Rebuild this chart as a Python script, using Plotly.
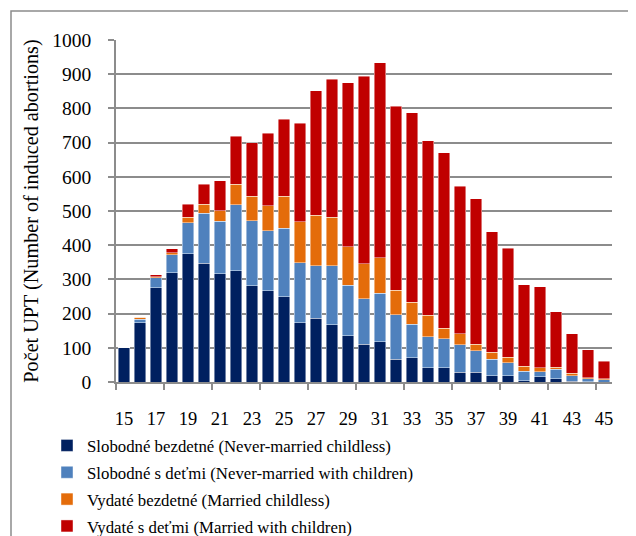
import plotly.graph_objects as go

ages = list(range(15, 46))
never_married_childless = [100, 173, 275, 319, 375, 347, 316, 325, 281, 267, 249, 173, 187, 167, 135, 111, 117, 67, 71, 41, 41, 29, 28, 18, 18, 3, 15, 9, 2, 1, 0]
never_married_children = [0, 10, 30, 53, 90, 146, 154, 194, 191, 175, 200, 176, 153, 173, 148, 132, 143, 129, 98, 92, 86, 80, 63, 48, 38, 29, 15, 29, 17, 8, 7]
married_childless = [0, 6, 3, 6, 17, 27, 31, 59, 71, 74, 94, 119, 148, 142, 113, 103, 103, 72, 64, 62, 30, 32, 19, 21, 17, 14, 12, 5, 6, 3, 2]
married_children = [0, 1, 6, 12, 38, 58, 88, 140, 157, 211, 226, 289, 363, 403, 479, 548, 570, 539, 555, 510, 514, 431, 426, 353, 318, 239, 237, 163, 116, 83, 52]

series_names = [
    "Slobodné bezdetné (Never-married childless)",
    "Slobodné s deťmi (Never-married with children)",
    "Vydaté bezdetné (Married childless)",
    "Vydaté s deťmi (Married with children)",
]
series_values = [never_married_childless, never_married_children, married_childless, married_children]
colors = ["#002060", "#4F81BD", "#E46C0A", "#C00000"]
x_labels = list(range(15, 46, 2))
y_ticks = list(range(0, 1001, 100))

FONT = "Liberation Serif, Times New Roman, serif"
W, H = 636, 536
OFF = 8  # page body margin
# desired plot area in page pixels: x 116..612, y 40..382
L, T = 116 - OFF, 40 - OFF
R = W - (612 - OFF)
B = H - (382 - OFF)
pw, ph = 612 - 116, 382 - 40

def px_x(p):
    return (p - 116) / pw

def px_y(p):
    return (382 - p) / ph

fig = go.Figure()
for i, (name, vals, c) in enumerate(zip(series_names, series_values, colors)):
    fig.add_trace(go.Bar(
        x=ages, y=vals, name=name,
        marker=dict(color=c, line=dict(color="rgba(255,255,255,0.55)", width=0.8)),
        legendgroup=f"g{i}",
    ))

fig.update_layout(
    barmode="stack",
    bargap=0.31,
    width=W, height=H,
    margin=dict(l=L, r=R, t=T, b=B, autoexpand=False),
    paper_bgcolor="white",
    plot_bgcolor="white",
    font=dict(family=FONT, size=18, color="black"),
    legend=dict(
        x=px_x(47), xanchor="left",
        y=px_y(428), yanchor="top",
        traceorder="grouped",
        tracegroupgap=2,
        font=dict(family=FONT, size=16.8, color="black"),
        bgcolor="rgba(0,0,0,0)",
        itemwidth=30,
    ),
    xaxis=dict(
        range=[14.5, 45.5],
        tickmode="array", tickvals=x_labels, ticktext=[str(v) for v in x_labels],
        ticks="", showgrid=False,
        showline=True, linecolor="#8c8c8c", linewidth=1.5,
        ticklabelstandoff=19,
        tickfont=dict(family=FONT, size=18.5, color="black"),
        minor=dict(ticks="outside", tick0=14.5, dtick=3, ticklen=6, tickcolor="#8c8c8c", tickwidth=1.5, showgrid=False),
        zeroline=False,
    ),
    yaxis=dict(
        range=[0, 1000],
        tickmode="array", tickvals=y_ticks,
        ticks="outside", ticklen=6, tickcolor="#8c8c8c", tickwidth=1.5,
        showgrid=True, gridcolor="#8c8c8c", gridwidth=1.5,
        showline=True, linecolor="#8c8c8c", linewidth=1.5,
        zeroline=False,
        ticklabelstandoff=13,
        tickfont=dict(family=FONT, size=19.5, color="black"),
        title=dict(text="Počet UPT (Number of induced abortions)", standoff=8,
                   font=dict(family=FONT, size=20.2, color="black")),
    ),
    shapes=[dict(type="rect", xref="paper", yref="paper",
                 x0=px_x(11), x1=px_x(645), y0=px_y(545), y1=px_y(11),
                 line=dict(color="#8c8c8c", width=1.5), fillcolor="rgba(0,0,0,0)", layer="below")],
)

fig.write_html("out.html")
